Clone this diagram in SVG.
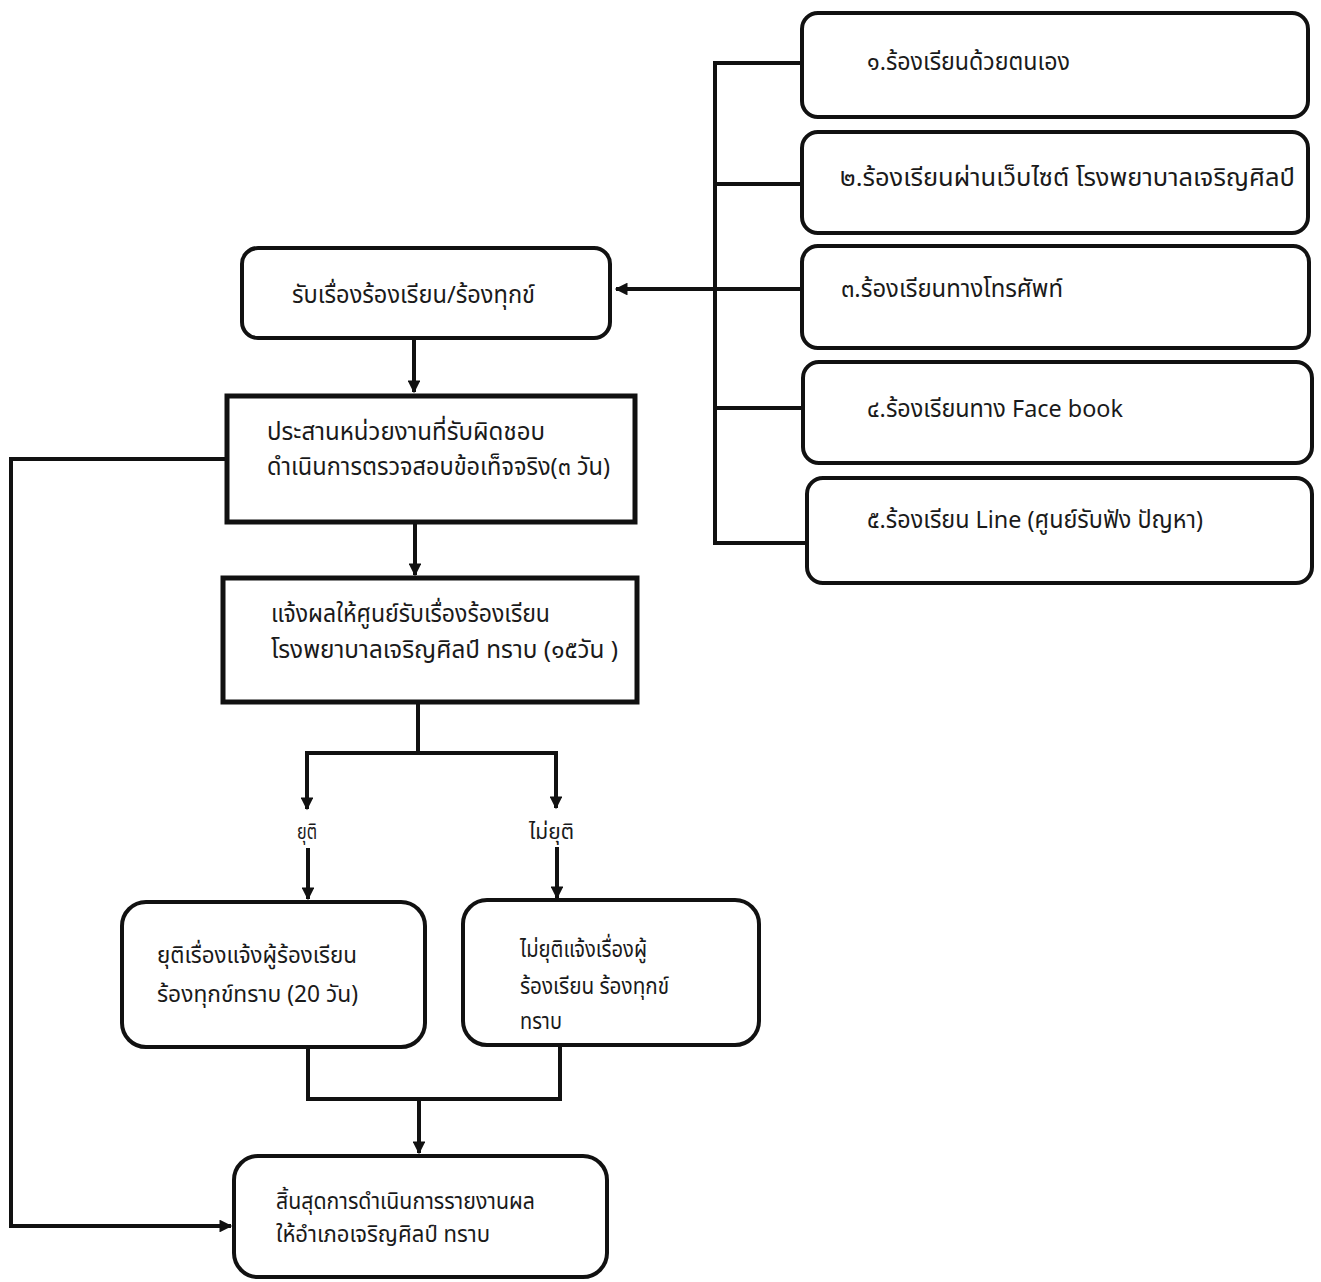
<svg xmlns="http://www.w3.org/2000/svg" width="1321" height="1282" viewBox="0 0 1321 1282">
<defs>
<style>
.box{fill:#fff;stroke:#111;stroke-width:4}
.sq{fill:#fff;stroke:#111;stroke-width:5}
.ln{fill:none;stroke:#111;stroke-width:4}
.t{font-family:"Noto Sans Thai","Noto Sans","DejaVu Sans",sans-serif;font-size:24px;fill:#1a1a1a}
.n{font-size:23px}
.s{font-size:22px}
</style>
<marker id="ah" viewBox="0 0 10 10" refX="9" refY="5" markerWidth="3.5" markerHeight="3.2" orient="auto" markerUnits="strokeWidth">
<path d="M0,0 L10,5 L0,10 z" fill="#111"/>
</marker>
</defs>
<rect width="1321" height="1282" fill="#fff"/>
<g id="connectors">
<path class="ln" d="M802,63 H715 V543 H807"/>
<path class="ln" d="M715,184 H802"/>
<path class="ln" d="M715,408 H803"/>
<path class="ln" d="M802,289 H616" marker-end="url(#ah)"/>
<path class="ln" d="M414,338 V392" marker-end="url(#ah)"/>
<path class="ln" d="M415,522 V575" marker-end="url(#ah)"/>
<path class="ln" d="M418,702 V753"/>
<path class="ln" d="M307,753 H556"/>
<path class="ln" d="M307,751 V809" marker-end="url(#ah)"/>
<path class="ln" d="M556,751 V808" marker-end="url(#ah)"/>
<path class="ln" d="M308,848 V899" marker-end="url(#ah)"/>
<path class="ln" d="M557,847 V898" marker-end="url(#ah)"/>
<path class="ln" d="M308,1047 V1099 H560 V1045"/>
<path class="ln" d="M419,1099 V1153" marker-end="url(#ah)"/>
<path class="ln" d="M227,459 H11 V1226 H231" marker-end="url(#ah)"/>
</g>
<g id="n1"><rect class="box" x="802" y="13" width="506" height="104" rx="16"/><text class="t" x="867" y="70" textLength="203" lengthAdjust="spacingAndGlyphs">๑.ร้องเรียนด้วยตนเอง</text></g>
<g id="n2"><rect class="box" x="802" y="132" width="506" height="101" rx="16"/><text class="t" x="840" y="186" textLength="455" lengthAdjust="spacingAndGlyphs">๒.ร้องเรียนผ่านเว็บไซต์ โรงพยาบาลเจริญศิลป์</text></g>
<g id="n3"><rect class="box" x="802" y="246" width="507" height="102" rx="16"/><text class="t" x="841" y="297" textLength="222" lengthAdjust="spacingAndGlyphs">๓.ร้องเรียนทางโทรศัพท์</text></g>
<g id="n4"><rect class="box" x="803" y="362" width="509" height="101" rx="16"/><text class="t" x="867" y="417" textLength="256" lengthAdjust="spacingAndGlyphs">๔.ร้องเรียนทาง Face book</text></g>
<g id="n5"><rect class="box" x="807" y="478" width="505" height="105" rx="16"/><text class="t" x="867" y="528" textLength="336" lengthAdjust="spacingAndGlyphs">๕.ร้องเรียน Line (ศูนย์รับฟัง ปัญหา)</text></g>
<g id="n6"><rect class="box" x="242" y="248" width="368" height="90" rx="16"/><text class="t" x="292" y="303" textLength="243" lengthAdjust="spacingAndGlyphs">รับเรื่องร้องเรียน/ร้องทุกข์</text></g>
<g id="n7"><rect class="sq" x="227" y="396" width="408" height="126"/><text class="t" x="267" y="440" textLength="278" lengthAdjust="spacingAndGlyphs">ประสานหน่วยงานที่รับผิดชอบ</text><text class="t" x="267" y="475" textLength="343" lengthAdjust="spacingAndGlyphs">ดำเนินการตรวจสอบข้อเท็จจริง(๓ วัน)</text></g>
<g id="n8"><rect class="sq" x="223" y="578" width="414" height="124"/><text class="t" x="271" y="622" textLength="279" lengthAdjust="spacingAndGlyphs">แจ้งผลให้ศูนย์รับเรื่องร้องเรียน</text><text class="t" x="271" y="658" textLength="347" lengthAdjust="spacingAndGlyphs">โรงพยาบาลเจริญศิลป์ ทราบ (๑๕วัน )</text></g>
<g id="l1"><text class="t s" x="297" y="839" textLength="20" lengthAdjust="spacingAndGlyphs">ยุติ</text></g>
<g id="l2"><text class="t s" x="529" y="839" textLength="45" lengthAdjust="spacingAndGlyphs">ไม่ยุติ</text></g>
<g id="n9"><rect class="box" x="122" y="902" width="303" height="145" rx="24"/><text class="t n" x="157" y="963" textLength="200" lengthAdjust="spacingAndGlyphs">ยุติเรื่องแจ้งผู้ร้องเรียน</text><text class="t n" x="157" y="1002" textLength="201" lengthAdjust="spacingAndGlyphs">ร้องทุกข์ทราบ (20 วัน)</text></g>
<g id="n10"><rect class="box" x="463" y="900" width="296" height="145" rx="24"/><text class="t n" x="520" y="957" textLength="127" lengthAdjust="spacingAndGlyphs">ไม่ยุติแจ้งเรื่องผู้</text><text class="t n" x="520" y="994" textLength="149" lengthAdjust="spacingAndGlyphs">ร้องเรียน ร้องทุกข์</text><text class="t n" x="520" y="1029" textLength="42" lengthAdjust="spacingAndGlyphs">ทราบ</text></g>
<g id="n11"><rect class="box" x="234" y="1156" width="373" height="121" rx="24"/><text class="t n" x="276" y="1209" textLength="259" lengthAdjust="spacingAndGlyphs">สิ้นสุดการดำเนินการรายงานผล</text><text class="t n" x="276" y="1242" textLength="214" lengthAdjust="spacingAndGlyphs">ให้อำเภอเจริญศิลป์ ทราบ</text></g>
</svg>
